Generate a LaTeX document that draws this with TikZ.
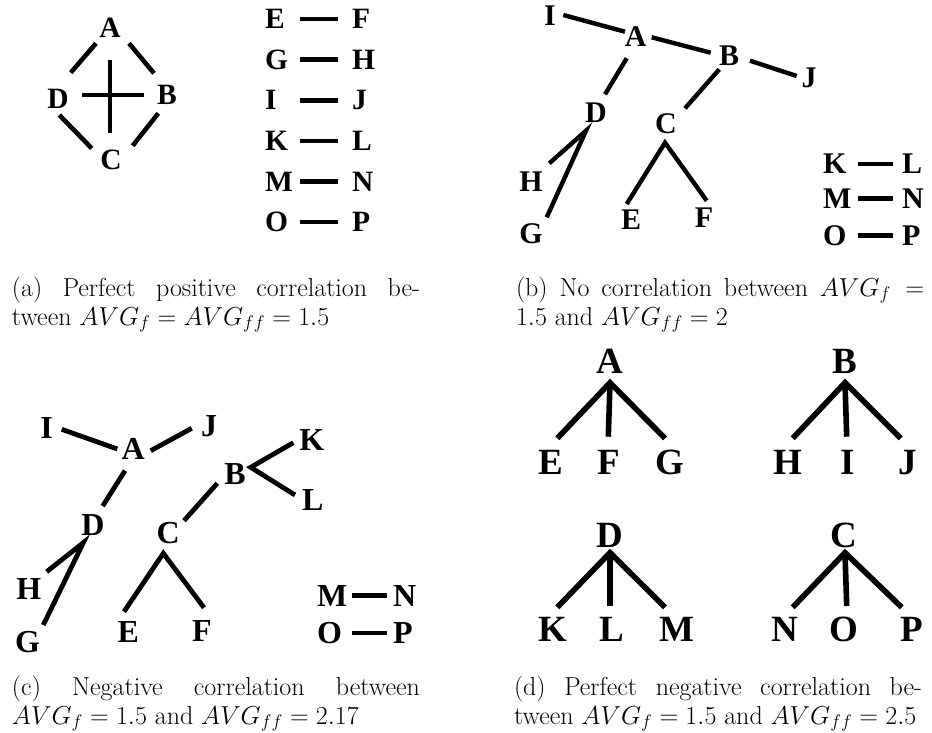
\RequirePackage{fix-cm}
\documentclass[tikz,border=0pt]{standalone}
\usepackage{fontspec}
\newfontfamily\graphfont{Liberation Serif}
\tikzset{
  lbl/.style 2 args={inner sep=0pt, outer sep=0pt,
    font={\graphfont\bfseries\fontsize{#1}{#1}\selectfont},
    text height=#2, text depth=0pt},
  la/.style={lbl={29.5}{19.5pt}},
  lb/.style={lbl={30}{19.9pt}},
  lc/.style={lbl={32}{21.2pt}},
  ld/.style={lbl={37}{24.5pt}},
  leftcol/.style={anchor=west, text width=20pt, align=left},
  rightcol/.style={anchor=west},
  wa/.style={line width=4.6pt},
  wb/.style={line width=4.4pt},
  wc/.style={line width=4.8pt},
  wd/.style={line width=5.6pt},
  caption/.style={inner sep=0pt, outer sep=0pt, anchor=base west,
    font={\fontsize{26}{29}\selectfont}},
}
\begin{document}
\begin{tikzpicture}[x=1pt, y=-1pt]
\useasboundingbox (0,0) rectangle (932,732);

% ---------- (a) diamond with a cross, and six pairs ----------
\node[la] (aA) at (110,28) {A};
\node[la] (aB) at (167,94.5) {B};
\node[la] (aC) at (111,160) {C};
\node[la] (aD) at (58,98.3) {D};
\draw[wa] ([shift={(-14,15.3)}]aA.center) -- ([shift={(12.7,-25.6)}]aD.center);
\draw[wa] ([shift={(19,15.3)}]aA.center) -- ([shift={(-13,-21.2)}]aB.center);
\draw[wa] ([shift={(1.3,16.7)}]aD.center) -- ([shift={(-19.3,-11.7)}]aC.center);
\draw[wa] ([shift={(-8.7,18.8)}]aB.center) -- ([shift={(21.7,-14.3)}]aC.center);
\draw[wa] ([shift={(23.7,-3.3)}]aD.center) -- ([shift={(-23,0.5)}]aB.center);
\draw[wa] ([shift={(0,32)}]aA.center) -- ([shift={(-1,-27.3)}]aC.center);

\foreach \l/\r/\y in {E/F/19, G/H/59.6, I/J/100.2, K/L/140.8, M/N/181.4, O/P/222}{
  \node[la, leftcol] (a\l) at (265,\y) {\l};
  \node[la, rightcol] (a\r) at (352,\y) {\r};
  \draw[wa, shorten <=15pt, shorten >=14pt] (a\l) -- (a\r);
}

% ---------- (b) no correlation ----------
\node[lb] (bI) at (550,15.8) {I};
\node[lb] (bA) at (635.7,36.7) {A};
\node[lb] (bB) at (729,55.7) {B};
\node[lb] (bJ) at (809,77.5) {J};
\node[lb] (bD) at (596,113) {D};
\node[lb] (bC) at (666,123.3) {C};
\node[lb] (bH) at (531,181.7) {H};
\node[lb] (bG) at (531,234) {G};
\node[lb] (bE) at (631,220) {E};
\node[lb] (bF) at (704,218) {F};
\draw[wb] ([shift={(13.3,-0.8)}]bI.center) -- ([shift={(-10.7,-5)}]bA.center);
\draw[wb] ([shift={(16,0.6)}]bA.center) -- ([shift={(-18.3,-3)}]bB.center);
\draw[wb] ([shift={(21,5)}]bB.center) -- ([shift={(-12.3,-1.5)}]bJ.center);
\draw[wb] ([shift={(-9,21.6)}]bA.center) -- ([shift={(9,-18.7)}]bD.center);
\draw[wb] ([shift={(-9.7,13.6)}]bB.center) -- ([shift={(19,-15)}]bC.center);
\draw[wb] ([shift={(18.3,-18.4)}]bH.center) -- ([shift={(-10,17.7)}]bD.center)
  -- ([shift={(15.7,-16.7)}]bG.center);
\draw[wb] ([shift={(-4.3,-16)}]bE.center) -- ([shift={(-1,19.4)}]bC.center)
  -- ([shift={(2.7,-17.3)}]bF.center);

\foreach \l/\r/\y in {K/L/164, M/N/198.5, O/P/235.5}{
  \node[lb, leftcol] (b\l) at (823,\y) {\l};
  \node[lb, rightcol] (b\r) at (902,\y) {\r};
  \draw[wb, shorten <=15pt, shorten >=9pt] (b\l) -- (b\r);
}

% ---------- (c) negative correlation ----------
\node[lc] (cI) at (46.7,428.3) {I};
\node[lc] (cA) at (133.3,448.8) {A};
\node[lc] (cJ) at (209,426.3) {J};
\node[lc] (cB) at (235,474.2) {B};
\node[lc] (cK) at (311.7,440.3) {K};
\node[lc] (cL) at (312.7,499.7) {L};
\node[lc] (cD) at (93,525) {D};
\node[lc] (cC) at (168.3,533.3) {C};
\node[lc] (cH) at (28.8,589.2) {H};
\node[lc] (cG) at (27.5,642) {G};
\node[lc] (cE) at (128.3,631.7) {E};
\node[lc] (cF) at (202,630.5) {F};
\draw[wc] ([shift={(15,1)}]cI.center) -- ([shift={(-16,0.2)}]cA.center);
\draw[wc] ([shift={(17.4,1.9)}]cA.center) -- ([shift={(-17.3,2)}]cJ.center);
\draw[wc] ([shift={(-8.3,21.9)}]cA.center) -- ([shift={(9.7,-19)}]cD.center);
\draw[wc] ([shift={(-17.7,9.1)}]cB.center) -- ([shift={(15.7,-12.6)}]cC.center);
\draw[wc] ([shift={(-18.4,2.4)}]cK.center) -- ([shift={(15.7,-6.9)}]cB.center)
  -- ([shift={(-17.7,-4.7)}]cL.center);
\draw[wc] ([shift={(17.9,-17.5)}]cH.center) -- ([shift={(-9.7,17.7)}]cD.center)
  -- ([shift={(15.8,-17)}]cG.center);
\draw[wc] ([shift={(-4.3,-20)}]cE.center) -- ([shift={(-5,20)}]cC.center)
  -- ([shift={(2,-22.8)}]cF.center);

\foreach \l/\r/\y in {M/N/595.5, O/P/633}{
  \node[lc, leftcol] (c\l) at (317,\y) {\l};
  \node[lc, rightcol] (c\r) at (393,\y) {\r};
  \draw[wc, shorten <=15pt, shorten >=6pt] (c\l) -- (c\r);
}

% ---------- (d) four stars ----------
\node[ld] (dA) at (609.7,360.8) {A};
\node[ld] (dB) at (845.3,361.7) {B};
\node[ld] (dE) at (550.5,462.5) {E};
\node[ld] (dF) at (608.3,462.5) {F};
\node[ld] (dG) at (670,462.5) {G};
\node[ld] (dH) at (787.5,462.5) {H};
\node[ld] (dI) at (847.5,462.5) {I};
\node[ld] (dJ) at (907.5,462.5) {J};
\node[ld] (dD) at (609.7,535) {D};
\node[ld] (dC) at (844,535) {C};
\node[ld] (dK) at (552.5,629) {K};
\node[ld] (dL) at (611.7,629) {L};
\node[ld] (dM) at (676.7,629) {M};
\node[ld] (dN) at (785,629) {N};
\node[ld] (dO) at (844,629) {O};
\node[ld] (dP) at (911.7,629) {P};

\draw[wd] ([shift={(6.8,-24.2)}]dE.center) -- ([shift={(0.3,21.9)}]dA.center)
  -- ([shift={(-5,-24.2)}]dG.center);
\draw[wd] ([shift={(0.3,21.9)}]dA.center) -- ([shift={(0,-25.8)}]dF.center);

\draw[wd] ([shift={(5.2,-24.2)}]dH.center) -- ([shift={(-0.3,21)}]dB.center)
  -- ([shift={(-6.8,-24.2)}]dJ.center);
\draw[wd] ([shift={(-0.3,21)}]dB.center) -- ([shift={(-0.8,-25.8)}]dI.center);

\draw[wd] ([shift={(4.8,-21.7)}]dK.center) -- ([shift={(0.3,17.7)}]dD.center)
  -- ([shift={(-11.7,-21.7)}]dM.center);
\draw[wd] ([shift={(0.3,17.7)}]dD.center) -- ([shift={(-1.7,-23)}]dL.center);

\draw[wd] ([shift={(7.7,-21.7)}]dN.center) -- ([shift={(1,17.7)}]dC.center)
  -- ([shift={(-10,-21.7)}]dP.center);
\draw[wd] ([shift={(1,17.7)}]dC.center) -- ([shift={(2.7,-23)}]dO.center);

% ---------- captions ----------
\node[caption] (capa) at (12,296) {\parbox[t]{408pt}{(a) Perfect positive correlation be-\linebreak tween $AVG_f = AVG_{ff} = 1.5$}};
\node[caption] (capb) at (516,296) {\parbox[t]{408pt}{(b) No correlation between $AVG_f =$\linebreak $1.5$ and $AVG_{ff} = 2$}};
\node[caption] (capc) at (12,695) {\parbox[t]{408pt}{(c) Negative correlation between\linebreak $AVG_f = 1.5$ and $AVG_{ff} = 2.17$}};
\node[caption] (capd) at (514,695) {\parbox[t]{408pt}{(d) Perfect negative correlation be-\linebreak tween $AVG_f = 1.5$ and $AVG_{ff} = 2.5$}};
\end{tikzpicture}
\end{document}
